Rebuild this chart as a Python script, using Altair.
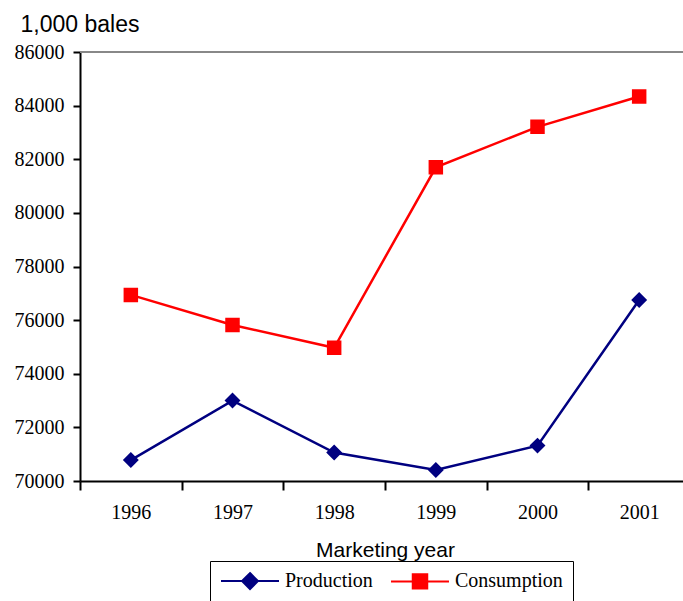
import altair as alt
import pandas as pd

years = ["1996", "1997", "1998", "1999", "2000", "2001"]
production = [70780, 73000, 71060, 70410, 71320, 76750]
consumption = [76940, 75820, 74970, 81700, 83210, 84340]
series_names = ["Production", "Consumption"]
series_colors = ["#000080", "#FF0000"]
y_ticks = list(range(70000, 86001, 2000))
top_value = [86000]

rows = []
for y, p, c in zip(years, production, consumption):
    rows.append({"year": y, "series": "Production", "value": p})
    rows.append({"year": y, "series": "Consumption", "value": c})
df = pd.DataFrame(rows)

# legend-friendly symbol paths: a horizontal line (only visible when stroked) plus the marker
diamond_path = "M-4,0H4M0,-1.1L1.1,0L0,1.1L-1.1,0Z"
square_path = "M-4,0H4M-1,-1H1V1H-1Z"

SERIF = "Liberation Serif"
SANS = "Liberation Sans"

x_axis = alt.Axis(
    title="Marketing year",
    titleFont=SANS,
    titleFontSize=21,
    titleFontWeight="normal",
    titleColor="#000",
    titlePadding=17,
    labelFont=SERIF,
    labelFontSize=20,
    labelColor="#000",
    labelAngle=0,
    labelPadding=12,
    tickBand="extent",
    tickSize=9,
    tickWidth=2,
    tickColor="#000",
    domainColor="#000",
    domainWidth=2,
    grid=False,
)

y_axis = alt.Axis(
    values=y_ticks,
    format="d",
    title="1,000 bales",
    titleAngle=0,
    titleFont=SANS,
    titleFontSize=23,
    titleFontWeight="normal",
    titleColor="#000",
    titleX=-60,
    titleY=-21,
    titleAlign="left",
    titleBaseline="alphabetic",
    labelFont=SERIF,
    labelFontSize=20,
    labelColor="#000",
    labelPadding=9,
    tickSize=7,
    tickWidth=2,
    tickColor="#000",
    domainColor="#000",
    domainWidth=2,
    grid=False,
)

x_scale = alt.Scale(range=[0, 610], paddingInner=0, paddingOuter=0)
y_scale = alt.Scale(domain=[70000, 86000], nice=False, zero=False)
color_scale = alt.Scale(domain=series_names, range=series_colors)

legend = alt.Legend(
    title=None,
    orient="none",
    legendX=130,
    legendY=509,
    direction="horizontal",
    labelFont=SERIF,
    labelFontSize=20,
    labelColor="#000",
    labelOffset=25,
    symbolOffset=20,
    columnPadding=14,
    padding=10,
    strokeColor="#000",
    fillColor="#fff",
    symbolSize=210,
    symbolStrokeWidth=2,
    symbolOpacity=1,
)

lines = alt.Chart(df).mark_line(strokeWidth=2.5).encode(
    x=alt.X("year:O", sort=years, scale=x_scale, axis=x_axis),
    y=alt.Y("value:Q", scale=y_scale, axis=y_axis),
    color=alt.Color("series:N", scale=color_scale, sort=series_names, legend=legend),
    detail="series:N",
)

points = alt.Chart(df).mark_point(filled=True, size=210, strokeWidth=0, opacity=1).encode(
    x=alt.X("year:O", sort=years),
    y=alt.Y("value:Q"),
    color=alt.Color("series:N", scale=color_scale, sort=series_names, legend=legend),
    stroke=alt.Stroke("series:N", scale=color_scale, sort=series_names, legend=legend),
    shape=alt.Shape(
        "series:N",
        scale=alt.Scale(domain=series_names, range=[diamond_path, square_path]),
        sort=series_names,
        legend=legend,
    ),
)

top_border = alt.Chart(pd.DataFrame({"v": top_value})).mark_rule(
    color="#888888", strokeWidth=2
).encode(y=alt.Y("v:Q", scale=y_scale, axis=y_axis))

chart = (
    alt.layer(lines, points, top_border)
    .properties(
        width=603,
        height=429,
        autosize=alt.AutoSizeParams(type="none"),
        padding={"left": 80, "top": 52, "right": 0, "bottom": 120},
    )
    .configure_view(stroke=None)
    .configure(background="#ffffff")
)

chart.save("out.html", embed_options={"renderer": "svg", "actions": False})
